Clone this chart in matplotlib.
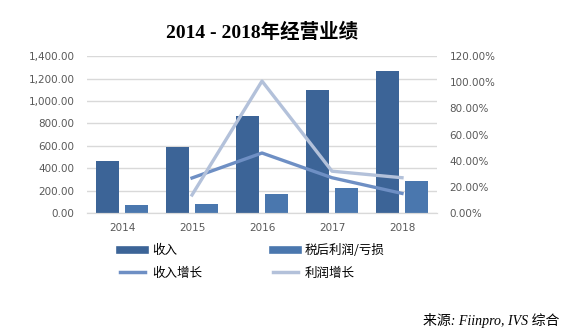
import numpy as np
import matplotlib
matplotlib.use("Agg")
from matplotlib import pyplot as plt
from matplotlib.lines import Line2D
from matplotlib.ticker import FuncFormatter

plt.rcParams['font.family'] = ['DejaVu Sans', 'Noto Sans CJK SC']

# ---------- data ----------
years = ['2014', '2015', '2016', '2017', '2018']
revenue = [464, 589, 865, 1097, 1266]
profit = [71, 80, 170, 223, 285]
revenue_growth = [np.nan, 26.8, 45.9, 27.0, 15.0]   # %
profit_growth = [np.nan, 13.8, 100.9, 32.0, 27.0]   # %

c_rev = '#3C6497'
c_prof = '#4A77AE'
c_rg = '#6E8FC4'
c_pg = '#B3C1DA'
grey = '#595959'

fig = plt.figure(figsize=(5.74, 3.36), dpi=100)
ax = fig.add_axes([0.1516, 0.366, 0.6097, 0.467])
ax2 = ax.twinx()

x = np.arange(len(years))
w = 0.33
ax.bar(x - 0.207, revenue, w, color=c_rev, zorder=2)
ax.bar(x + 0.207, profit, w, color=c_prof, zorder=2)
ax.set_ylim(0, 1400)
ax.set_yticks(np.arange(0, 1401, 200))
ax.yaxis.set_major_formatter(FuncFormatter(lambda v, p: f'{v:,.2f}'))
ax.set_xlim(-0.5, len(years) - 0.5)
ax.set_xticks(x)
ax.set_xticklabels(years)
ax.grid(axis='y', color='#D9D9D9', linewidth=1, zorder=0)
ax.set_axisbelow(True)

ax2.plot(x, revenue_growth, color=c_rg, linewidth=2.4, zorder=3)
ax2.plot(x, profit_growth, color=c_pg, linewidth=2.4, zorder=3)
ax2.set_ylim(0, 120)
ax2.set_yticks(np.arange(0, 121, 20))
ax2.yaxis.set_major_formatter(FuncFormatter(lambda v, p: f'{v:.2f}%'))

for a in (ax, ax2):
    for s in ('top', 'left', 'right'):
        a.spines[s].set_visible(False)
    a.spines['bottom'].set_color('#D9D9D9')
    a.tick_params(length=0, labelsize=7.5, labelcolor=grey, pad=9)
ax.tick_params(axis='x', pad=7)

fig.text(0.457, 0.905, '2014 - 2018年经营业绩', ha='center', va='center',
         fontsize=14, fontweight='bold', family=['Liberation Serif', 'Noto Sans CJK SC'])

handles = [Line2D([], [], color=c_rev, linewidth=5.5),
           Line2D([], [], color=c_rg, linewidth=2.5),
           Line2D([], [], color=c_prof, linewidth=5.5),
           Line2D([], [], color=c_pg, linewidth=2.5)]
labels = ['收入', '收入增长', '税后利润/亏损', '利润增长']
fig.legend(handles, labels, ncol=2, frameon=False, loc='center',
           bbox_to_anchor=(0.44, 0.22), handlelength=2.0, handletextpad=0.6,
           columnspacing=5.6, labelspacing=0.75,
           prop={'family': ['Noto Sans CJK SC'], 'size': 9})

fig.text(0.975, 0.045, '来源: Fiinpro, IVS 综合', ha='right', va='center',
         fontsize=10, style='italic', family=['Liberation Serif', 'Noto Sans CJK SC'])

fig.savefig('out.png', dpi=100)
